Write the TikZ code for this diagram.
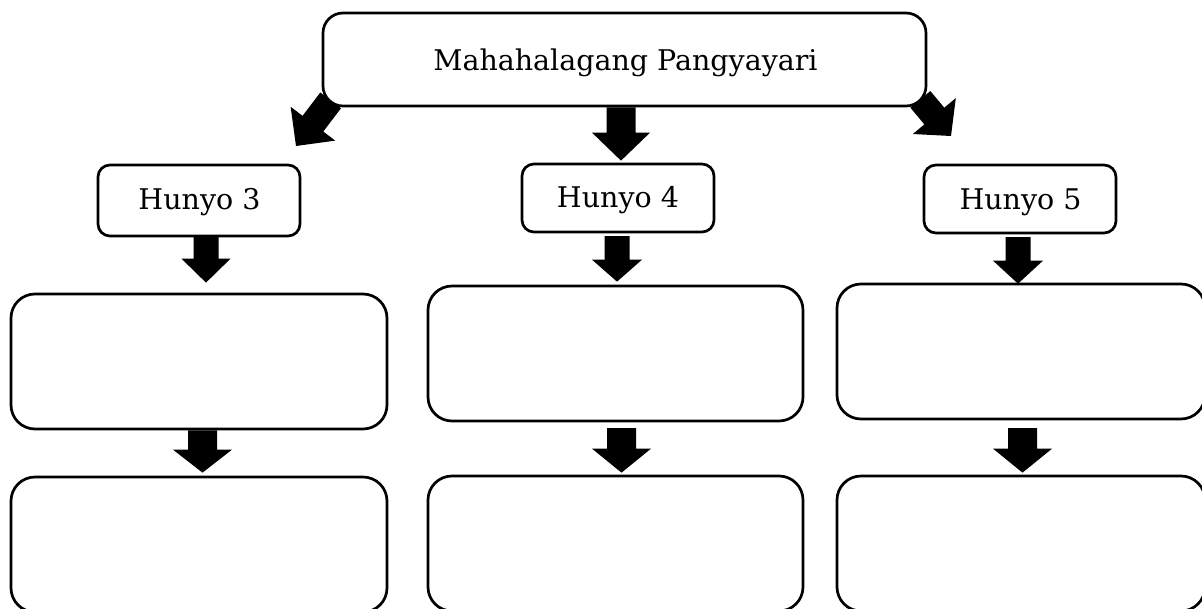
\documentclass[tikz,border=0pt]{standalone}
\usepackage{fontspec}
\setmainfont{DejaVu Serif}
\usetikzlibrary{calc}
\tikzset{
  box/.style={draw=black, line width=2.7pt, fill=white, inner sep=0pt},
  topbox/.style={box, rounded corners=20pt},
  datebox/.style={box, rounded corners=12pt},
  bigbox/.style={box, rounded corners=24pt},
  label/.style={font=\fontsize{28.5}{32}\selectfont, anchor=base, inner sep=0pt}
}
% block arrow: tail, tip, half shaft width, half head width, head length
\newcommand{\blockarr}[5]{%
  \path ($(#2)!#5!(#1)$) coordinate (bh);
  \fill[black] ($(#1)!#3!90:(#2)$) -- ($(bh)!#3!90:(#2)$) -- ($(bh)!#4!90:(#2)$) -- (#2)
     -- ($(bh)!#4!-90:(#2)$) -- ($(bh)!#3!-90:(#2)$) -- ($(#1)!#3!-90:(#2)$) -- cycle;
}
\begin{document}
\begin{tikzpicture}[x=1pt, y=-1pt]
\useasboundingbox (0,0) rectangle (1202,608);
\clip (0,0) rectangle (1202,608);
\fill[white] (0,0) rectangle (1202,608);

\node[topbox, minimum width=603pt, minimum height=93pt] (top) at (624.5,59.5) {};
\node[label] (toptext) at (625.5,70) {Mahahalagang Pangyayari};

\node[datebox, minimum width=202pt, minimum height=71pt] (h3) at (199,200.5) {};
\node[label] (h3t) at (199.5,209) {Hunyo 3};
\node[datebox, minimum width=192pt, minimum height=68pt] (h4) at (618,198) {};
\node[label] (h4t) at (618,207) {Hunyo 4};
\node[datebox, minimum width=192pt, minimum height=68pt] (h5) at (1020,199) {};
\node[label] (h5t) at (1020.5,209) {Hunyo 5};

\node[bigbox, minimum width=376pt, minimum height=135pt] (m1) at (199,361.5) {};
\node[bigbox, minimum width=375pt, minimum height=135pt] (m2) at (615.5,353.5) {};
\node[bigbox, minimum width=368pt, minimum height=135pt] (m3) at (1021,351.5) {};

\node[bigbox, minimum width=376pt, minimum height=135pt] (b1) at (199,544.5) {};
\node[bigbox, minimum width=375pt, minimum height=135pt] (b2) at (615.5,543.5) {};
\node[bigbox, minimum width=368pt, minimum height=135pt] (b3) at (1021,543.5) {};

% arrows from the top box
\coordinate (tL) at ([shift={(9pt,7pt)}]top.south west);
\coordinate (pL) at (296,146);
\blockarr{tL}{pL}{13pt}{28pt}{28pt}
\coordinate (tM) at ([xshift=-3.5pt]top.south);
\coordinate (pM) at ([yshift=2pt]h4.north -| tM);
\blockarr{tM}{pM}{14.5pt}{29pt}{28pt}
\coordinate (tR) at ([shift={(-7pt,8pt)}]top.south east);
\coordinate (pR) at (951,136);
\blockarr{tR}{pR}{13pt}{28pt}{26pt}

% arrows from the date boxes
\coordinate (t3) at (206,236);
\coordinate (p3) at ([yshift=10pt]m1.north -| t3);
\blockarr{t3}{p3}{12.5pt}{24.5pt}{24pt}
\coordinate (t4) at (617,236);
\coordinate (p4) at ([yshift=3pt]m2.north -| t4);
\blockarr{t4}{p4}{12.5pt}{25pt}{22pt}
\coordinate (t5) at (1018,237);
\coordinate (p5) at ([yshift=-1pt]m3.north -| t5);
\blockarr{t5}{p5}{12.5pt}{25pt}{23pt}

% arrows between the empty boxes
\coordinate (u1) at ([xshift=3.5pt]m1.south);
\coordinate (q1) at ([yshift=3pt]b1.north -| u1);
\blockarr{u1}{q1}{14.5pt}{29.5pt}{23pt}
\coordinate (u2) at (621.5,428);
\coordinate (q2) at ([yshift=2pt]b2.north -| u2);
\blockarr{u2}{q2}{14.5pt}{29.5pt}{24pt}
\coordinate (u3) at (1022.5,428);
\coordinate (q3) at ([yshift=2pt]b3.north -| u3);
\blockarr{u3}{q3}{14.5pt}{29.5pt}{24pt}
\end{tikzpicture}
\end{document}
